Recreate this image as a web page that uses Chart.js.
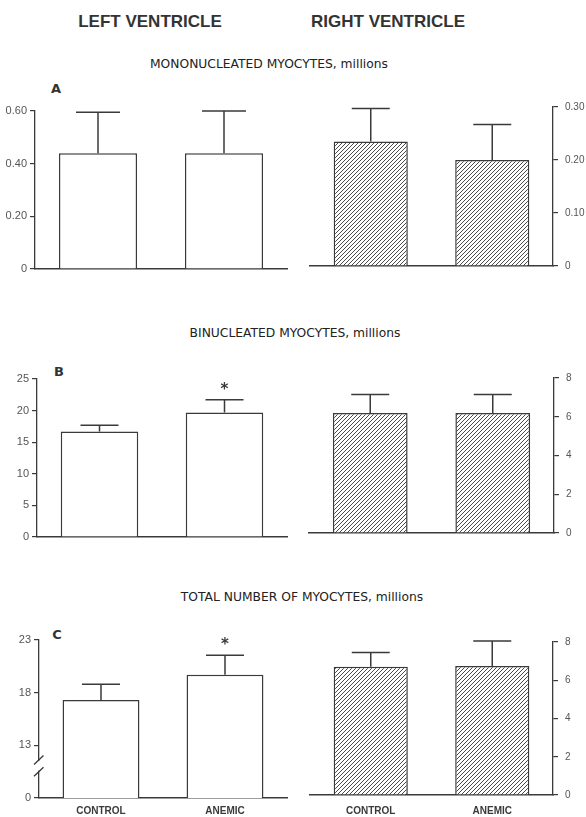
<!DOCTYPE html>
<html>
<head>
<meta charset="utf-8">
<script src="https://cdn.jsdelivr.net/npm/chart.js@4.4.1/dist/chart.umd.min.js"></script>
<style>
  body { margin: 0; background: #fff; width: 586px; height: 817px; overflow: hidden; position: relative;
         font-family: "Liberation Sans", Arial, sans-serif; color: #333; }
  .t { position: absolute; transform: translate(-50%, -50%); white-space: nowrap; }
  .head { font-weight: bold; font-size: 17px; }
  .sub { font-family: "DejaVu Sans", sans-serif; font-size: 12.3px; color: #222; }
  .tag { font-family: "DejaVu Sans", sans-serif; font-weight: bold; font-size: 13px; }
  canvas { position: absolute; }
</style>
</head>
<body>
<div class="t head" style="left:150px;top:22px">LEFT VENTRICLE</div>
<div class="t head" style="left:388px;top:22px">RIGHT VENTRICLE</div>
<div class="t sub" style="left:269px;top:64px">MONONUCLEATED MYOCYTES, millions</div>
<div class="t sub" style="left:295px;top:333px">BINUCLEATED MYOCYTES, millions</div>
<div class="t sub" style="left:302px;top:597px">TOTAL NUMBER OF MYOCYTES, millions</div>
<div class="t tag" style="left:56px;top:88px">A</div>
<div class="t tag" style="left:59px;top:371px">B</div>
<div class="t tag" style="left:57px;top:634px">C</div>
<script>
// groups
const groups = ['CONTROL', 'ANEMIC'];

// A: mononucleated myocytes (means, SEM)
const monoLV = [0.44, 0.44];
const monoLVsem = [0.155, 0.16];
const monoRV = [0.235, 0.20];
const monoRVsem = [0.062, 0.067];

// B: binucleated myocytes
const binuLV = [16.7, 19.7];
const binuLVsem = [1.0, 2.0];
const binuRV = [6.2, 6.2];
const binuRVsem = [0.95, 0.95];

// C: total number of myocytes
const totLV = [17.3, 19.7];
const totLVsem = [1.5, 1.85];
const totRV = [6.7, 6.75];
const totRVsem = [0.75, 1.3];

// significance marks (*)
const binuLVsig = [false, true];
const totLVsig = [false, true];
const noSig = [false, false];

// y ticks
const monoLVticks = [0, 0.2, 0.4, 0.6];
const monoLVlabels = ['0', '0.20', '0.40', '0.60'];
const monoRVticks = [0, 0.1, 0.2, 0.3];
const monoRVlabels = ['0', '0.10', '0.20', '0.30'];
const binuLVticks = [0, 5, 10, 15, 20, 25];
const binuLVlabels = ['0', '5', '10', '15', '20', '25'];
const binuRVticks = [0, 2, 4, 6, 8];
const binuRVlabels = ['0', '2', '4', '6', '8'];
// broken axis: lowest tick sits at 8 but reads 0
const totLVticks = [8, 13, 18, 23];
const totLVlabels = ['0', '13', '18', '23'];
const totLVbreak = [11.6, 10.5];
const totRVticks = [0, 2, 4, 6, 8];
const totRVlabels = ['0', '2', '4', '6', '8'];

const INK = '#3a3a3a';
const TICK = '#555';

function hatch() {
  const c = document.createElement('canvas');
  c.width = 4; c.height = 4;
  const g = c.getContext('2d');
  g.fillStyle = '#fff';
  g.fillRect(0, 0, 4, 4);
  g.strokeStyle = '#4a4a4a';
  g.lineWidth = 1;
  g.beginPath();
  g.moveTo(0, 4); g.lineTo(4, 0);
  g.moveTo(-1, 1); g.lineTo(1, -1);
  g.moveTo(3, 5); g.lineTo(5, 3);
  g.stroke();
  return g.createPattern(c, 'repeat');
}

const errorBars = {
  id: 'errorBars',
  afterDatasetsDraw(chart, args, opts) {
    const { ctx } = chart;
    const y = chart.scales.y;
    const ds = chart.data.datasets[0];
    ctx.save();
    ctx.strokeStyle = INK;
    ctx.lineWidth = 1.5;
    chart.getDatasetMeta(0).data.forEach((bar, i) => {
      const top = y.getPixelForValue(ds.data[i] + opts.sem[i]);
      ctx.beginPath();
      ctx.moveTo(bar.x, bar.y);
      ctx.lineTo(bar.x, top);
      ctx.moveTo(bar.x - opts.cap, top);
      ctx.lineTo(bar.x + opts.cap, top);
      ctx.stroke();
      if (opts.sig[i]) {
        ctx.fillStyle = INK;
        ctx.font = 'bold 15px "DejaVu Sans"';
        ctx.textAlign = 'center';
        ctx.textBaseline = 'middle';
        ctx.fillText('*', bar.x, top - 10);
      }
    });
    ctx.restore();
  }
};

const axisBreak = {
  id: 'axisBreak',
  afterDraw(chart, args, opts) {
    if (!opts.at) return;
    const { ctx } = chart;
    const y = chart.scales.y;
    const x = chart.chartArea.left;
    const y1 = y.getPixelForValue(opts.at[0]);
    const y2 = y.getPixelForValue(opts.at[1]);
    ctx.save();
    ctx.fillStyle = '#fff';
    ctx.fillRect(x - 2, y1 + 1, 4, y2 - y1 - 2);
    ctx.strokeStyle = INK;
    ctx.lineWidth = 1.3;
    ctx.beginPath();
    [y1, y2].forEach(p => {
      ctx.moveTo(x - 5, p + 4.5);
      ctx.lineTo(x + 4.5, p - 4.5);
    });
    ctx.stroke();
    ctx.restore();
  }
};

function panel(o) {
  const left = o.side === 'left';
  const cx = left ? 0 : 290;
  const cw = left ? 300 : 296;
  const top = Math.round(o.area.t) - 16;
  const h = Math.round(o.area.b - top + o.xh);
  const cv = document.createElement('canvas');
  cv.width = cw;
  cv.height = h;
  cv.style.left = cx + 'px';
  cv.style.top = top + 'px';
  document.body.appendChild(cv);

  new Chart(cv, {
    type: 'bar',
    data: {
      labels: groups,
      datasets: [{
        data: o.data,
        backgroundColor: left ? '#fff' : hatch(),
        borderColor: INK,
        borderWidth: 1.5,
        barPercentage: left ? 0.62 : 0.61,
        categoryPercentage: 1
      }]
    },
    options: {
      responsive: false,
      animation: false,
      devicePixelRatio: 1,
      layout: {
        padding: left
          ? { top: 16, right: 300 - o.area.r, left: 0, bottom: 0 }
          : { top: 16, right: 0, left: o.area.l - 290, bottom: 0 }
      },
      plugins: {
        legend: { display: false },
        tooltip: { enabled: false },
        errorBars: { sem: o.sem, sig: o.sig, cap: o.cap || 19 },
        axisBreak: { at: o.brk }
      },
      scales: {
        x: {
          grid: { display: false, drawTicks: false },
          border: { display: true, color: INK, width: 1.5 },
          ticks: {
            display: !!o.showX,
            color: INK,
            padding: left ? 7 : 10,
            font: { family: 'Liberation Sans', size: 10, weight: 'bold' }
          },
          afterFit: s => { s.height = o.xh; }
        },
        y: {
          position: o.side,
          min: o.ticks[0],
          max: o.ticks[o.ticks.length - 1],
          afterBuildTicks: s => { s.ticks = o.ticks.map(v => ({ value: v })); },
          grid: { drawOnChartArea: false, drawTicks: true, tickLength: 5, color: INK, lineWidth: 1.2 },
          border: { color: INK, width: 1.3 },
          ticks: {
            color: TICK,
            padding: left ? 3 : 7,
            font: { family: 'Liberation Sans', size: left ? 11 : 10 },
            callback: (v, i) => o.labels[i]
          },
          afterFit: s => { s.width = left ? o.area.l : 586 - o.area.r; }
        }
      }
    },
    plugins: [errorBars, axisBreak]
  });
}

panel({ side: 'left', area: { l: 35, t: 111, r: 287, b: 269 }, xh: 10, data: monoLV, sem: monoLVsem, sig: noSig,
        ticks: monoLVticks, labels: monoLVlabels, cap: 22 });
panel({ side: 'right', area: { l: 310, t: 107, r: 553, b: 269 }, xh: 10, data: monoRV, sem: monoRVsem, sig: noSig,
        ticks: monoRVticks, labels: monoRVlabels });
panel({ side: 'left', area: { l: 37, t: 379, r: 287, b: 537 }, xh: 10, data: binuLV, sem: binuLVsem, sig: binuLVsig,
        ticks: binuLVticks, labels: binuLVlabels });
panel({ side: 'right', area: { l: 309, t: 378, r: 554, b: 536 }, xh: 10, data: binuRV, sem: binuRVsem, sig: noSig,
        ticks: binuRVticks, labels: binuRVlabels });
panel({ side: 'left', area: { l: 39, t: 640, r: 287, b: 798 }, xh: 20, data: totLV, sem: totLVsem, sig: totLVsig,
        ticks: totLVticks, labels: totLVlabels, brk: totLVbreak, showX: true });
panel({ side: 'right', area: { l: 310, t: 642, r: 553, b: 795 }, xh: 22, data: totRV, sem: totRVsem, sig: noSig,
        ticks: totRVticks, labels: totRVlabels, showX: true });
</script>
</body>
</html>
